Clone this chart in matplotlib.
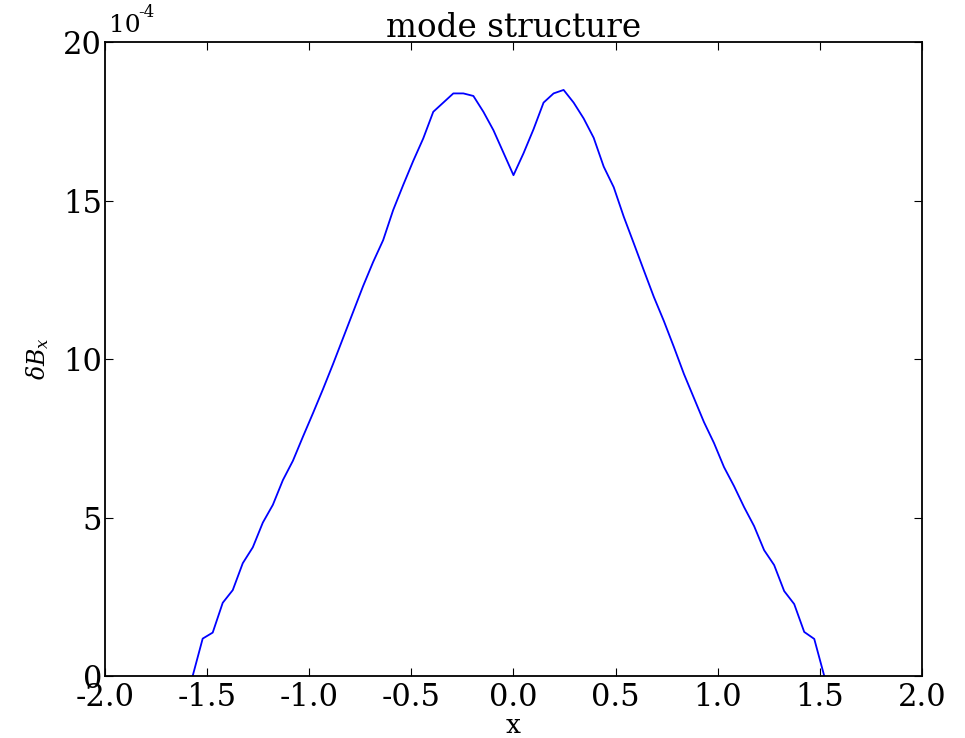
import numpy as np
import matplotlib
matplotlib.use("Agg")
import matplotlib.pyplot as plt

# grid index (x = k * pi/64) and dB_x in units of 1e-4
k_idx = np.arange(-32, 32)
dbx = [0.0, 1.18, 1.37, 2.31, 2.71, 3.56, 4.06, 4.84, 5.40, 6.18,
       6.79, 7.55, 8.29, 9.05, 9.84, 10.66, 11.48, 12.30, 13.06, 13.75,
       14.70, 15.49, 16.25, 16.96, 17.80, 18.09, 18.38, 18.38, 18.30, 17.80,
       17.22, 16.51, 15.80, 16.49, 17.25, 18.09, 18.38, 18.49, 18.09, 17.59,
       16.98, 16.07, 15.42, 14.49, 13.65, 12.80, 11.96, 11.20, 10.38, 9.53,
       8.77, 8.01, 7.35, 6.59, 5.99, 5.33, 4.73, 3.97, 3.50, 2.68,
       2.27, 1.39, 1.17, 0.0]
x = k_idx * np.pi / 64

xticks = [-2.0, -1.5, -1.0, -0.5, 0.0, 0.5, 1.0, 1.5, 2.0]
yticks = [0, 5, 10, 15, 20]

plt.rcParams['font.family'] = ['DejaVu Serif']
plt.rcParams['axes.unicode_minus'] = False
plt.rcParams['mathtext.fontset'] = 'dejavuserif'

fig = plt.figure(figsize=(9.65, 7.38), dpi=100)
ax = fig.add_axes([0.1088, 0.084, 0.8466, 0.859])

ax.plot(x, dbx, color='blue', lw=1.3)
ax.set_xlim(-2, 2)
ax.set_ylim(0, 20)
ax.set_xticks(xticks)
ax.set_xticklabels(["%.1f" % t for t in xticks])
ax.set_yticks(yticks)
ax.set_yticklabels([str(t) for t in yticks])
ax.tick_params(direction='in', length=6, width=0.8, top=True, right=True,
               labelsize=22, pad=4)
ax.tick_params(axis='y', pad=2)
for s in ax.spines.values():
    s.set_linewidth(1.3)

ax.set_title("mode structure", fontsize=23.5, pad=4)
ax.set_xlabel("x", fontsize=19, labelpad=0)
ax.set_ylabel(r"$\delta B_x$", fontsize=17, labelpad=9)

# offset text "10^-4"
fig.text(0.113, 0.950, "10", fontsize=18, ha='left', va='bottom')
fig.text(0.1435, 0.972, "-4", fontsize=12, ha='left', va='bottom')

fig.savefig("out.png", dpi=100)
